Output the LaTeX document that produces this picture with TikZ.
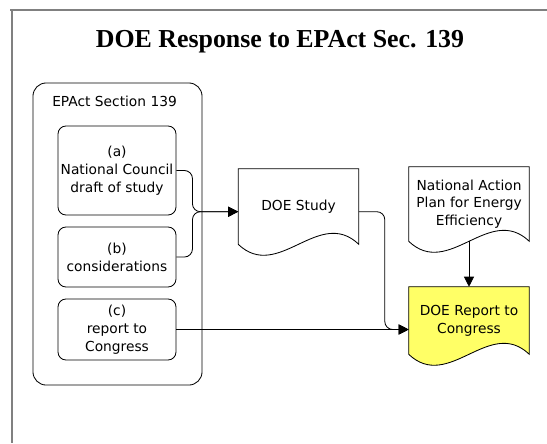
\documentclass[tikz,border=0pt]{standalone}
\usepackage{fontspec}
\setmainfont{Liberation Serif}
\setsansfont{DejaVu Sans}
\usetikzlibrary{arrows.meta,backgrounds}
\definecolor{reportyellow}{RGB}{255,255,102}
\definecolor{framegray}{RGB}{128,128,128}

\begin{document}
\begin{tikzpicture}[x=0.025cm, y=-0.025cm,
    every node/.style={font=\sffamily\fontsize{9.8}{12.6}\selectfont, align=center},
    sect/.style={draw, rounded corners=0.2cm, minimum width=2.95cm, inner sep=1pt, line width=0.6pt},
    doc/.style={minimum width=3cm, inner sep=0pt},
    docline/.style={line width=0.6pt},
    wire/.style={line width=0.6pt, rounded corners=0.2cm, -{Triangle[length=0.25cm,width=0.25cm]}}]
  \useasboundingbox (0,0) rectangle (547,443);
  % frame
  \draw[framegray, line width=1.4pt] (10,10) -- (547,10);
  \draw[framegray, line width=1.4pt] (12,10) -- (12,443);
  \node[anchor=base, font=\rmfamily\bfseries\fontsize{18.4}{22}\selectfont] (title) at (280,47) {DOE Response to EPAct Sec. 139};

  % EPAct Section 139
  \node[draw, rounded corners=0.33cm, minimum width=4.225cm, minimum height=7.55cm, line width=0.6pt] (epact) at (117.5,234) {};
  \node[anchor=base west, inner sep=0pt] (epactlbl) at (52,106) {EPAct Section 139};
  \node[sect, minimum height=2.225cm] (a) at (117,170.5) {(a)\\National Council\\draft of study};
  \node[sect, minimum height=1.5cm] (b) at (117,257) {(b)\\considerations};
  \node[sect, minimum height=1.525cm] (c) at (117,329.5) {(c)\\report to\\Congress};

  % documents
  \node[doc, minimum height=1.875cm] (study) at (298.5,206.5) {DOE Study};
  \draw[docline] (study.south west) -- (study.north west) -- (study.north east) -- (study.south east)
    .. controls +(-1cm,0.95cm) and +(1cm,-0.95cm) .. (study.south west) -- cycle;
  \node[doc, minimum height=1.85cm] (nap) at (469,204) {National Action\\Plan for Energy\\Efficiency};
  \draw[docline] (nap.south west) -- (nap.north west) -- (nap.north east) -- (nap.south east)
    .. controls +(-1cm,0.95cm) and +(1cm,-0.95cm) .. (nap.south west) -- cycle;
  \node[doc, minimum height=1.675cm] (report) at (469,320.5) {DOE Report to\\Congress};
  \begin{scope}[on background layer]
    \filldraw[docline, fill=reportyellow] (report.south west) -- (report.north west) -- (report.north east) -- (report.south east)
      .. controls +(-1cm,0.95cm) and +(1cm,-0.95cm) .. (report.south west) -- cycle;
  \end{scope}

  % connectors
  \draw[wire] (a.east) -- ++(0.4cm,0) |- ([yshift=-0.13cm]study.west);
  \draw[wire] (b.east) -- ++(0.4cm,0) |- ([yshift=-0.13cm]study.west);
  \draw[wire] (c.east) -- (c.east -| report.west);
  \draw[wire] ([yshift=-0.13cm]study.east) -- ++(0.65cm,0) |- (c.east -| report.west);
  \draw[wire] (nap.south) -- (report.north);
\end{tikzpicture}
\end{document}
